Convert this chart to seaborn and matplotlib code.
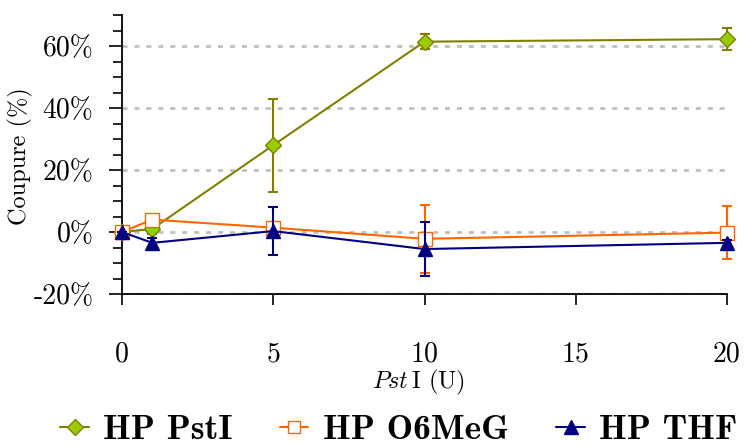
import matplotlib
matplotlib.use("Agg")
import matplotlib.pyplot as plt
from matplotlib.lines import Line2D
from matplotlib.ticker import MultipleLocator
import seaborn as sns
import pandas as pd
import numpy as np

# ---- data ----
units = [0, 1, 5, 10, 20]
pst_vals = [0.0, 1.0, 28.0, 61.4, 62.2]
pst_err = [0.0, 1.5, 15.0, 2.5, 3.5]
o6_vals = [0.0, 4.0, 1.4, -2.2, -0.2]
o6_err = [0.0, 0.0, 0.0, 10.9, 8.6]
thf_vals = [0.0, -3.5, 0.3, -5.5, -3.5]
thf_err = [0.0, 1.5, 7.7, 8.6, 1.0]
series_names = ["HP PstI", "HP O6MeG", "HP THF"]
y_ticks = [-20, 0, 20, 40, 60]
y_ticklabels = ["-20%", "0%", "20%", "40%", "60%"]
x_ticks = [0, 5, 10, 15, 20]

sns.set_style("ticks")
plt.rcParams["font.family"] = ["cmr10", "DejaVu Serif"]
plt.rcParams["mathtext.fontset"] = "cm"
plt.rcParams["axes.unicode_minus"] = False
plt.rcParams["text.color"] = "black"
plt.rcParams["axes.labelcolor"] = "black"

df = pd.concat([
    pd.DataFrame({"U": units, "val": pst_vals, "err": pst_err, "series": series_names[0]}),
    pd.DataFrame({"U": units, "val": o6_vals, "err": o6_err, "series": series_names[1]}),
    pd.DataFrame({"U": units, "val": thf_vals, "err": thf_err, "series": series_names[2]}),
], ignore_index=True)

styles = {
    "HP PstI": dict(color="#808000", marker="D", mfc="#99cc00", mec="#808000", ms=8.5),
    "HP O6MeG": dict(color="#ff6600", marker="s", mfc="white", mec="#ff6600", ms=10),
    "HP THF": dict(color="#000080", marker="^", mfc="#000080", mec="#000080", ms=10.5),
}

fig = plt.figure(figsize=(7.44, 4.47), dpi=100)
ax = fig.add_axes([122 / 744, 1 - 294 / 447, (727 - 122) / 744, (294 - 15) / 447])

for i, name in enumerate(series_names):
    sub = df[df["series"] == name]
    st = styles[name]
    ax.errorbar(sub["U"], sub["val"], yerr=sub["err"], fmt="none", ecolor=st["color"],
                elinewidth=1.5, capsize=3.8, capthick=1.5, zorder=3 + 2 * i, clip_on=False)
    sns.lineplot(x=sub["U"].values, y=sub["val"].values, ax=ax, color=st["color"], lw=1.5,
                 marker=st["marker"], markerfacecolor=st["mfc"], markeredgecolor=st["mec"],
                 markeredgewidth=1.0, markersize=st["ms"], zorder=4 + 2 * i, clip_on=False,
                 legend=False)

ax.set_xlim(0, 20)
ax.set_ylim(-20, 70)
ax.set_xticks(x_ticks)
ax.set_xticklabels([str(t) for t in x_ticks])
ax.set_yticks(y_ticks)
ax.set_yticklabels(y_ticklabels)
ax.yaxis.set_minor_locator(MultipleLocator(5))

ax.yaxis.grid(True, which="major", linestyle=(0, (1.8, 2.5)), color="#c0c0c0", lw=2, zorder=1)
ax.set_axisbelow(True)

for s in ["top", "right"]:
    ax.spines[s].set_visible(False)
for s in ["left", "bottom"]:
    ax.spines[s].set_linewidth(1.3)
    ax.spines[s].set_color("black")

ax.tick_params(axis="y", which="major", direction="out", length=9.5, width=1.2, pad=11, labelsize=20, colors="black")
ax.tick_params(axis="y", which="minor", direction="out", length=6.5, width=1.2, colors="black")
ax.tick_params(axis="x", which="major", direction="out", length=8, width=1.2, pad=26, labelsize=20, colors="black")

ax.set_ylabel("Coupure (%)", fontsize=17.5, color="black")
ax.yaxis.set_label_coords(-(122 - 33) / 605, (294 - 156) / 279)
ax.set_xlabel(r"$Pst\,$I (U)", fontsize=17.5, color="black")
ax.xaxis.set_label_coords((418 - 122) / 605, -(368 - 294) / 279)

handles = []
for name in series_names:
    st = styles[name]
    handles.append(Line2D([0], [0], color=st["color"], lw=1.5, marker=st["marker"],
                          markerfacecolor=st["mfc"], markeredgecolor=st["mec"],
                          markersize=st["ms"] * 0.9))
leg = fig.legend(handles, series_names, loc="center", bbox_to_anchor=(0.536, 1 - 430 / 447),
                 ncol=3, frameon=False, handlelength=0.8, handletextpad=0.4, columnspacing=1.35,
                 borderaxespad=0, borderpad=0, prop={"family": "cmb10", "size": 25.5})
for t in leg.get_texts():
    t.set_color("black")

fig.savefig("out.png", dpi=100)
